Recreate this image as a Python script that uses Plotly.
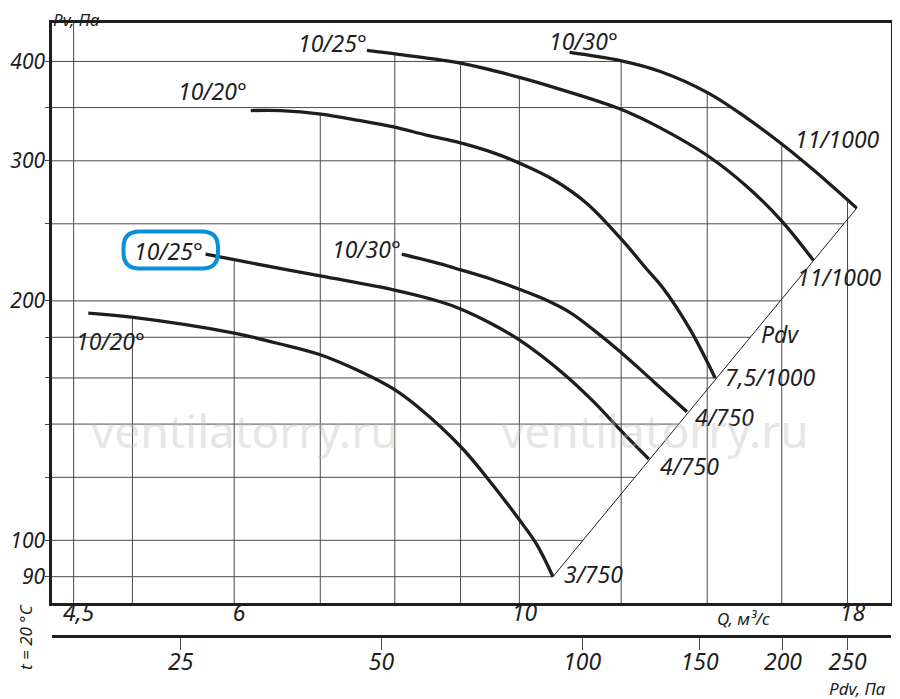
import numpy as np
import plotly.graph_objects as go

# Fan curves: Q (m3/s) vs Pv (Pa)
q_1020_low = [4.62, 4.99, 6.0, 6.48, 7.0, 7.52, 7.98, 8.33, 9.0, 9.49, 10.0, 10.32, 10.62]
p_1020_low = [193, 190.8, 182.2, 176.9, 171.1, 163, 155, 147.3, 131.2, 118.5, 106.1, 98.7, 90]

q_1025_low = [5.70, 6.0, 7.0, 7.98, 8.68, 9.0, 9.49, 10.0, 10.89, 11.42, 11.98, 12.61]
p_1025_low = [229, 225.3, 215, 206.5, 199.5, 195.4, 187.6, 178.6, 160.6, 149.4, 137.7, 126.5]

q_1030_low = [8.1, 8.68, 9.0, 9.49, 10.0, 10.44, 10.96, 11.42, 11.98, 12.72, 13.5]
p_1030_low = [229, 222.6, 218.8, 213.2, 206.8, 201.2, 193.2, 183.9, 172.6, 158.3, 145.1]

q_1020_up = [6.18, 6.52, 7.01, 7.52, 7.98, 8.48, 9.0, 9.55, 10.0, 10.63, 11.29,
             11.98, 12.57, 12.95, 13.58, 14.2]
p_1020_up = [347, 347, 343.5, 337, 331, 323, 316, 307, 298, 284, 265,
             240, 219, 207, 184, 160]

q_1025_up = [7.61, 8.08, 9.0, 10.0, 10.76, 11.98, 12.87, 14.03, 15.03, 16.0, 16.93]
p_1025_up = [413, 408, 398, 382, 369, 348.5, 330, 304, 278.5, 252, 225]

q_1030_up = [10.94, 11.98, 12.87, 14.03, 15.03, 16.0, 16.93, 18.3]
p_1030_up = [410.6, 401, 388.6, 365, 339.5, 315, 292.3, 261.6]

start_labels = ["10/20°", "10/25°", "10/30°", "10/20°", "10/25°", "10/30°"]
end_labels = ["3/750", "4/750", "4/750", "7,5/1000", "11/1000", "11/1000"]

# axes
q_grid = [4.5, 5, 6, 7, 8, 9, 10, 12, 14, 16, 18]
q_ticks = [4.5, 6, 10, 18]
q_ticktext = ["4,5", "6", "10", "18"]
p_grid = [90, 100, 120, 140, 160, 180, 200, 250, 300, 350, 400]
p_ticks = [90, 100, 200, 300, 400]
pdv_ticks = [25, 50, 100, 150, 200, 250]

x_range = [0.6364, 1.2891]      # log10 Q
y_range = [1.9208, 2.6504]      # log10 Pv
x2_range = [1.205, 2.463]       # log10 Pdv

INK = "#1e1e1e"
GRID = "#4a4a4a"
FONT = "Noto Sans"

curves = [
    (q_1020_low, p_1020_low),
    (q_1025_low, p_1025_low),
    (q_1030_low, p_1030_low),
    (q_1020_up, p_1020_up),
    (q_1025_up, p_1025_up),
    (q_1030_up, p_1030_up),
]


def loginterp(v, xs, ys):
    return 10 ** np.interp(np.log10(v), np.log10(xs), np.log10(ys))


fig = go.Figure()

# vertical grid lines stop at the highest curve above them
p_lo, p_hi = 10 ** y_range[0], 10 ** y_range[1]
vx, vy = [], []
for q in q_grid:
    tops = [loginterp(q, cq, cp) for cq, cp in curves if cq[0] <= q <= cq[-1]]
    top = max(tops) if tops else p_hi
    vx += [q, q, None]
    vy += [p_lo, top, None]

# horizontal grid lines stop at the Pdv line / outer curve
q_a, p_a = q_1020_low[-1], p_1020_low[-1]
q_b, p_b = q_1030_up[-1], p_1030_up[-1]
hx, hy = [], []
for p in p_grid:
    if p <= p_b:
        t = (np.log10(p) - np.log10(p_a)) / (np.log10(p_b) - np.log10(p_a))
        qe = 10 ** (np.log10(q_a) + t * (np.log10(q_b) - np.log10(q_a)))
    else:
        qe = 10 ** np.interp(np.log10(p), np.log10(p_1030_up[::-1]),
                             np.log10(q_1030_up[::-1]))
    hx += [10 ** x_range[0], qe, None]
    hy += [p, p, None]

for gx, gy in [(vx, vy), (hx, hy)]:
    fig.add_trace(go.Scatter(x=gx, y=gy, mode="lines",
                             line=dict(color=GRID, width=1),
                             hoverinfo="skip", showlegend=False))

# Pdv line through the curve end points
fig.add_trace(go.Scatter(x=[q_a, q_b], y=[p_a, p_b], mode="lines",
                         line=dict(color=INK, width=1),
                         hoverinfo="skip", showlegend=False))

for cq, cp in curves:
    fig.add_trace(go.Scatter(x=cq, y=cp, mode="lines",
                             line=dict(color=INK, width=3.3, shape="spline",
                                       smoothing=1.0),
                             showlegend=False))

# dummy trace so the Pdv axis is drawn
fig.add_trace(go.Scatter(x=pdv_ticks, y=[None] * len(pdv_ticks), xaxis="x2",
                         mode="lines", hoverinfo="skip", showlegend=False))

lab_font = dict(family=FONT, size=23, color=INK, style="italic")
tick_font = dict(family=FONT, size=21, color=INK, style="italic")
small_font = dict(family=FONT, size=17, color=INK, style="italic")

# label placement: (xanchor, xshift, yshift) in px
start_pos = [("left", -14, -28), ("right", -1, 3), ("right", 1, 5),
             ("right", -2, 20), ("right", 2, 7), ("left", -23, 11)]
end_pos = [("left", 9, 3), ("left", 9, -7), ("left", 6, -5),
           ("left", 8, 1), ("left", -18, -17), ("left", -64, 69)]

annotations = []
for (cq, cp), txt, (xa, xs, ys) in zip(curves, start_labels, start_pos):
    annotations.append(dict(x=np.log10(cq[0]), y=np.log10(cp[0]), text=txt,
                            xanchor=xa, yanchor="middle", xshift=xs, yshift=ys,
                            showarrow=False, font=lab_font))
for (cq, cp), txt, (xa, xs, ys) in zip(curves, end_labels, end_pos):
    annotations.append(dict(x=np.log10(cq[-1]), y=np.log10(cp[-1]), text=txt,
                            xanchor=xa, yanchor="middle", xshift=xs, yshift=ys,
                            showarrow=False, font=lab_font))

# "Pdv" next to the diagonal
annotations.append(dict(x=(np.log10(q_a) + np.log10(q_b)) / 2,
                        y=(np.log10(p_a) + np.log10(p_b)) / 2,
                        text="Pdv", xanchor="center", yanchor="middle",
                        xshift=75, yshift=58, showarrow=False, font=lab_font))

# page sits 8px in from the window corner (body margin);
# plot paper spans x 52..891, y 23..659 in window pixels
def px(x):
    return (x - 52) / 839


def py(y):
    return (659 - y) / 636


annotations += [
    dict(x=px(51), y=py(20), xref="paper", yref="paper", text="Pv, Па",
         xanchor="left", yanchor="middle", showarrow=False, font=small_font),
    dict(x=px(715), y=py(618), xref="paper", yref="paper", text="Q, м³/с",
         xanchor="left", yanchor="middle", showarrow=False, font=small_font),
    dict(x=px(827), y=py(688), xref="paper", yref="paper", text="Pdv, Па",
         xanchor="left", yanchor="middle", showarrow=False, font=small_font),
    dict(x=px(25), y=py(637), xref="paper", yref="paper", text="t = 20 °C",
         textangle=-90, xanchor="center", yanchor="middle", showarrow=False,
         font=small_font),
]
for wx in [245, 655]:
    annotations.append(dict(x=px(wx), y=py(430), xref="paper", yref="paper",
                            text="ventilatorry.ru", showarrow=False,
                            xanchor="center", yanchor="middle",
                            font=dict(family=FONT, size=46,
                                      color="rgba(190,190,190,0.4)")))

# rounded highlight around the boxed label
x0, x1, y0, y1, r = 123.5, 218, 231.5, 268.5, 16
pts = [("M", x0 + r, y0), ("L", x1 - r, y0), ("Q", x1, y0, x1, y0 + r),
       ("L", x1, y1 - r), ("Q", x1, y1, x1 - r, y1), ("L", x0 + r, y1),
       ("Q", x0, y1, x0, y1 - r), ("L", x0, y0 + r), ("Q", x0, y0, x0 + r, y0)]
path = ""
for seg in pts:
    cmd, coords = seg[0], seg[1:]
    pairs = [f"{px(coords[i]):.5f},{py(coords[i + 1]):.5f}"
             for i in range(0, len(coords), 2)]
    path += cmd + " ".join(pairs) + " "
path += "Z"

fig.update_layout(
    width=892, height=691,
    margin=dict(l=44, r=9, t=15, b=40, autoexpand=False),
    paper_bgcolor="white", plot_bgcolor="white",
    showlegend=False,
    xaxis=dict(type="log", range=x_range, tickvals=q_ticks,
               ticktext=q_ticktext, ticks="", showgrid=False, zeroline=False,
               showline=True, mirror=True, linewidth=2.5, linecolor=INK,
               tickfont=lab_font, ticklabelstandoff=-13, ticklabelshift=5,
               automargin=False),
    xaxis2=dict(type="log", range=x2_range, overlaying="x", anchor="free",
                position=py(636), side="bottom", tickvals=pdv_ticks,
                ticks="outside", ticklen=12, tickwidth=1.2, tickcolor=GRID,
                showgrid=False, zeroline=False, showline=True, linewidth=2.5,
                linecolor=INK, tickfont=lab_font, ticklabelstandoff=-7,
                automargin=False),
    yaxis=dict(type="log", range=y_range, domain=[py(603.3), 1],
               tickvals=p_grid,
               ticktext=[str(v) if v in p_ticks else "" for v in p_grid],
               ticks="outside", ticklen=4, tickcolor=GRID, showgrid=False,
               zeroline=False, showline=True, mirror=True, linewidth=2.5,
               linecolor=INK, tickfont=tick_font, ticklabelstandoff=-4,
               automargin=False),
    annotations=annotations,
    shapes=[dict(type="path", xref="paper", yref="paper", path=path,
                 line=dict(color="#0a8fd9", width=4), layer="above")],
)

fig.write_html("out.html")
